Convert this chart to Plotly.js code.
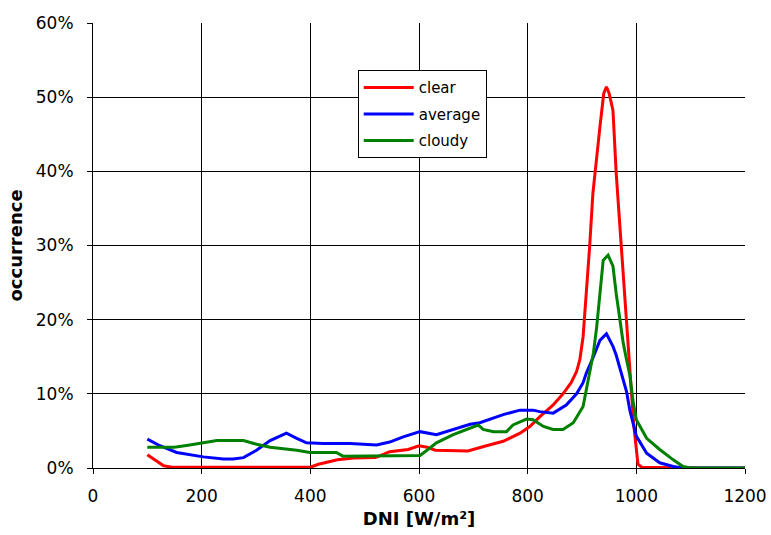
<!DOCTYPE html>
<html>
<head>
<meta charset="utf-8">
<script src="https://cdn.plot.ly/plotly-3.0.1.min.js"></script>
<style>html,body{margin:0;padding:0;background:#fff;}#chart{width:771px;height:535px;}</style>
</head>
<body>
<div id="chart"></div>
<script>
// DNI [W/m²] and occurrence [%]
const clearX = [100,115,130,145,200,300,400,415,435,450,480,520,546,580,600,615,630,660,690,724,755,786,804,822,847,865,880,890,896,902,908,914,920,927,933,940,945,950,957,963,970,976,982,988,995,1003,1010,1100,1200];
const clearY = [1.8,1.0,0.3,0.1,0.1,0.1,0.1,0.5,0.85,1.1,1.35,1.4,2.2,2.5,3.0,2.8,2.4,2.3,2.3,3.0,3.6,4.7,5.6,6.9,8.5,10.0,11.5,13.0,14.6,17.7,23.5,29.8,37.0,42.4,46.0,50.5,51.4,50.5,48.2,39.7,32.5,25.8,19.9,14.6,6.0,0.5,0.1,0.0,0.0];

const averageX = [100,123,154,178,203,240,258,277,301,326,356,375,393,424,473,522,546,571,602,632,663,694,712,755,786,810,822,847,871,890,902,908,921,933,945,957,963,970,976,982,988,1000,1019,1043,1068,1085,1200];
const averageY = [3.9,3.0,2.1,1.8,1.5,1.2,1.2,1.4,2.4,3.7,4.7,4.0,3.4,3.3,3.3,3.1,3.5,4.2,4.9,4.5,5.2,5.9,6.1,7.2,7.8,7.8,7.6,7.4,8.5,10.0,11.5,12.8,15.0,17.2,18.1,16.4,15.2,13.4,11.7,10.3,7.8,4.3,2.0,0.7,0.2,0.0,0.0];

const cloudyX = [100,150,178,228,277,301,326,375,399,448,460,522,602,620,632,663,694,709,718,737,761,773,798,810,829,847,865,884,902,908,914,921,927,933,939,948,957,963,970,976,982,988,994,1000,1019,1043,1068,1086,1100,1200];
const cloudyY = [2.8,2.8,3.1,3.7,3.7,3.2,2.8,2.4,2.1,2.1,1.6,1.6,1.7,2.7,3.4,4.5,5.4,5.8,5.2,4.9,4.9,5.8,6.6,6.5,5.6,5.2,5.2,6.1,8.3,10.5,12.5,15.5,19.0,23.5,28.0,28.7,27.2,23.5,19.9,16.8,14.6,12.5,9.0,6.5,4.0,2.5,1.1,0.2,0.0,0.0];

const seriesNames = ["clear","average","cloudy"];
const xTickVals = [0,200,400,600,800,1000,1200];
const yTickVals = [0,10,20,30,40,50,60];
const yTickText = ["0%","10%","20%","30%","40%","50%","60%"];

const colors = ["#FF0000","#0000FF","#008000"];
const xs = [clearX, averageX, cloudyX];
const ys = [clearY, averageY, cloudyY];

const traces = seriesNames.map((n,i) => ({
  x: xs[i], y: ys[i], name: n, type: "scatter", mode: "lines",
  legendgroup: n,
  line: {color: colors[i], width: 3, shape: "linear"},
  hoverinfo: "skip"
}));

const fam = "'DejaVu Sans', Arial, sans-serif";

const layout = {
  width: 771, height: 535,
  margin: {l: 93, r: 26, t: 23, b: 67, pad: 0},
  paper_bgcolor: "#fff", plot_bgcolor: "#fff",
  font: {family: fam, size: 17, color: "#000"},
  showlegend: true,
  legend: {
    x: 0.406, y: 0.894, xanchor: "left", yanchor: "top",
    bgcolor: "#fff", bordercolor: "#000", borderwidth: 1,
    font: {family: fam, size: 15, color: "#000"},
    tracegroupgap: 4, itemwidth: 50
  },
  xaxis: {
    range: [0, 1200], tickvals: xTickVals, ticktext: xTickVals.map(String),
    showgrid: true, gridcolor: "#000", gridwidth: 1,
    showline: true, linecolor: "#000", linewidth: 1, mirror: false,
    ticks: "outside", ticklen: 5, tickcolor: "#000",
    zeroline: false, tickfont: {family: fam, size: 17},
    ticklabelstandoff: 8,
    title: {text: "<b>DNI [W/m²]</b>", font: {family: fam, size: 18}, standoff: 6}
  },
  yaxis: {
    range: [0, 60], tickvals: yTickVals, ticktext: yTickText,
    showgrid: true, gridcolor: "#000", gridwidth: 1,
    showline: true, linecolor: "#000", linewidth: 1, mirror: false,
    ticks: "outside", ticklen: 5, tickcolor: "#000",
    zeroline: false, tickfont: {family: fam, size: 17},
    ticklabelstandoff: 10,
    title: {text: "<b>occurrence</b>", font: {family: fam, size: 18}, standoff: 8}
  }
};

Plotly.newPlot("chart", traces, layout, {displayModeBar: false, staticPlot: true});
</script>
</body>
</html>
